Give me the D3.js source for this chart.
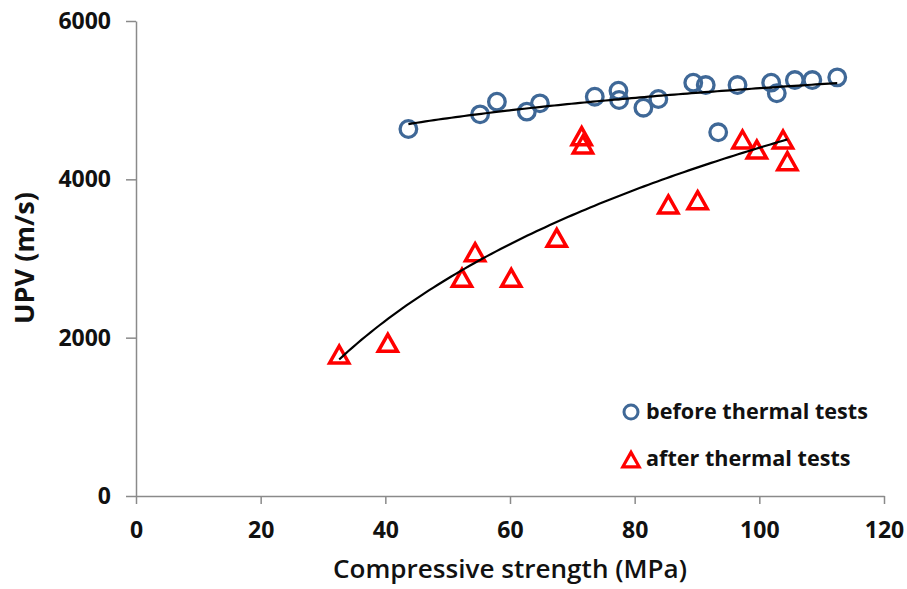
<!DOCTYPE html>
<html>
<head>
<meta charset="utf-8">
<script src="https://cdn.jsdelivr.net/npm/d3@7"></script>
<style>
  html, body { margin: 0; padding: 0; background: #fff; }
  svg { display: block; }
  text { font-family: "Open Sans", "Liberation Sans", sans-serif; fill: #111; }
</style>
</head>
<body>
<svg id="chart" width="907" height="589"></svg>
<script>
// ---- data ----
const beforeX = [43.7, 55.2, 57.9, 62.7, 64.8, 73.6, 77.4, 77.5, 81.4, 83.8, 89.4, 91.4, 93.4, 96.5, 101.9, 102.8, 105.7, 108.5, 112.5];
const beforeY = [4636, 4821, 4981, 4855, 4960, 5044, 5120, 5002, 4905, 5015, 5221, 5191, 4594, 5191, 5221, 5087, 5254, 5254, 5288];
const afterX  = [32.6, 40.4, 52.3, 54.4, 60.2, 67.5, 71.5, 71.7, 85.4, 90.1, 97.3, 99.6, 103.8, 104.5];
const afterY  = [1781, 1929, 2750, 3073, 2750, 3255, 4539, 4434, 3676, 3730, 4497, 4370, 4497, 4223];
const xTicks = [0, 20, 40, 60, 80, 100, 120];
const yTicks = [0, 2000, 4000, 6000];
const seriesNames = ["before thermal tests", "after thermal tests"];
const xTitle = "Compressive strength (MPa)";
const yTitle = "UPV (m/s)";

// ---- layout ----
const svg = d3.select("#chart");
const x = d3.scaleLinear().domain([0, 120]).range([136, 884]);
const y = d3.scaleLinear().domain([0, 6000]).range([496, 21]);
const axisColor = "#8a8a8a";
const blue = "#3f6897";
const red = "#ff0000";

// axes
const gx = svg.append("g").attr("transform", `translate(0,${y(0)})`)
  .call(d3.axisBottom(x).tickValues(xTicks).tickFormat(d3.format("d")).tickSizeInner(8).tickSizeOuter(0).tickPadding(18));
const gy = svg.append("g").attr("transform", `translate(${x(0)},0)`)
  .call(d3.axisLeft(y).tickValues(yTicks).tickFormat(d3.format("d")).tickSizeInner(10).tickSizeOuter(0).tickPadding(15));
[gx, gy].forEach(g => {
  g.select(".domain").attr("stroke", axisColor).attr("stroke-width", 1.5);
  g.selectAll(".tick line").attr("stroke", axisColor).attr("stroke-width", 1.5);
  g.selectAll(".tick text").attr("font-family", "'Open Sans', sans-serif")
    .attr("font-size", 23).attr("font-weight", 700).attr("fill", "#111");
});

// log trend lines fitted from the data
function logFit(xs, ys) {
  const lx = xs.map(Math.log);
  const mx = d3.mean(lx), my = d3.mean(ys);
  let sxy = 0, sxx = 0;
  lx.forEach((v, i) => { sxy += (v - mx) * (ys[i] - my); sxx += (v - mx) * (v - mx); });
  const b = sxy / sxx, a = my - b * mx;
  return t => a + b * Math.log(t);
}
function trend(xs, ys) {
  const f = logFit(xs, ys);
  const [lo, hi] = d3.extent(xs);
  const pts = d3.range(0, 101).map(i => { const t = lo + (hi - lo) * i / 100; return [t, f(t)]; });
  svg.append("path").datum(pts)
    .attr("fill", "none").attr("stroke", "#000").attr("stroke-width", 2.2)
    .attr("d", d3.line().x(d => x(d[0])).y(d => y(d[1])));
}

// markers
const triPath = s => `M0,${-9 * s}L${9.6 * s},${8 * s}L${-9.6 * s},${8 * s}Z`;

const before = beforeX.map((v, i) => ({ x: v, y: beforeY[i] }));
const after = afterX.map((v, i) => ({ x: v, y: afterY[i] }));

svg.append("g").selectAll("circle").data(before).join("circle")
  .attr("cx", d => x(d.x)).attr("cy", d => y(d.y)).attr("r", 8.3)
  .attr("fill", "none").attr("stroke", blue).attr("stroke-width", 3.3);

svg.append("g").selectAll("path").data(after).join("path")
  .attr("transform", d => `translate(${x(d.x)},${y(d.y)})`)
  .attr("d", triPath(1))
  .attr("fill", "none").attr("stroke", red).attr("stroke-width", 3.5).attr("stroke-linejoin", "miter");

trend(beforeX, beforeY);
trend(afterX, afterY);

// fit text to a target width
function fitText(sel, target) {
  const w = sel.node().getComputedTextLength();
  const fs = parseFloat(sel.attr("font-size"));
  sel.attr("font-size", fs * target / w);
}

// axis titles
const xt = svg.append("text").attr("x", 510).attr("y", 578).attr("text-anchor", "middle")
  .attr("font-size", 24).attr("font-weight", 600).text(xTitle);
fitText(xt, 354);
const yt = svg.append("text").attr("transform", "translate(34,258) rotate(-90)").attr("text-anchor", "middle")
  .attr("font-size", 20).attr("font-weight", 700).text(yTitle);
fitText(yt, 132);

// legend
const leg = svg.append("g");
leg.append("circle").attr("cx", 631).attr("cy", 412).attr("r", 7)
  .attr("fill", "none").attr("stroke", blue).attr("stroke-width", 3);
leg.append("path").attr("transform", "translate(631,460)").attr("d", triPath(0.85))
  .attr("fill", "none").attr("stroke", red).attr("stroke-width", 3.2);
const l1 = leg.append("text").attr("x", 646).attr("y", 419).attr("font-size", 20).attr("font-weight", 700).text(seriesNames[0]);
fitText(l1, 222);
const l2 = leg.append("text").attr("x", 646).attr("y", 466).attr("font-size", 20).attr("font-weight", 700).text(seriesNames[1]);
l2.attr("font-size", l1.attr("font-size"));
</script>
</body>
</html>
